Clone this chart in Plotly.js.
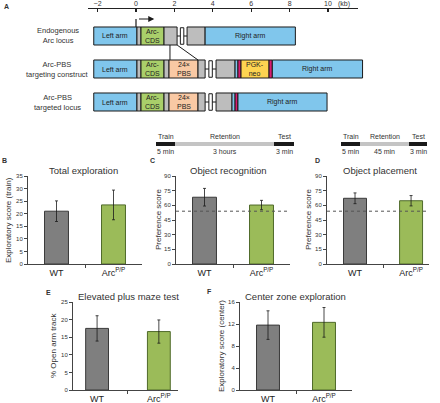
<!DOCTYPE html>
<html>
<head>
<meta charset="utf-8">
<script src="https://cdn.plot.ly/plotly-3.0.1.min.js"></script>
<style>html,body{margin:0;padding:0;background:#fff}#chart{width:440px;height:403px}</style>
</head>
<body>
<div id="chart"></div>
<script>
// ---------- DATA ----------
const groups = ['WT', 'Arc<sup>P/P</sup>'];
const totalExploration = [21.0, 23.5];
const totalExplorationErr = [4.1, 5.9];
const objectRecognition = [68.3, 60.3];
const objectRecognitionErr = [9.0, 4.8];
const objectPlacement = [67.2, 64.7];
const objectPlacementErr = [5.5, 5.3];
const openArmTrack = [17.5, 16.6];
const openArmTrackErr = [3.6, 3.3];
const centerZone = [11.8, 12.3];
const centerZoneErr = [2.6, 2.7];
const chanceLevel = 54;

// schematic (kb)
const kbTicks = [-2, 0, 2, 4, 6, 8, 10];
const kbTickText = ['\u22122', '0', '2', '4', '6', '8', '10'];
const rowNames = ['Endogenous<br>Arc locus', 'Arc-PBS<br>targeting construct', 'Arc-PBS<br>targeted locus'];
const segRow  = [0,0,0,0,0,0, 1,1,1,1,1,1,1,1,1,1,1,1, 2,2,2,2,2,2,2,2,2,2];
const segFrom = [-2.2,0.05,0.26,1.46,2.66,3.6, -2.2,0.05,0.26,1.46,1.72,3.23,4.17,5.16,5.31,5.47,6.93,7.1, -2.2,0.05,0.26,1.46,1.72,3.23,4.17,5.0,5.16,5.31];
const segTo   = [0.05,0.26,1.46,2.14,3.6,8.3, 0.05,0.26,1.46,1.72,3.23,3.6,5.16,5.31,5.47,6.93,7.1,11.8, 0.05,0.26,1.46,1.72,3.23,3.6,5.0,5.16,5.31,9.95];
const segKind = ['arm','utr','cds','utr','utr','arm', 'arm','utr','cds','utr','pbs','utr','utr','arm','lox','neo','lox','arm', 'arm','utr','cds','utr','pbs','utr','utr','arm','lox','arm'];
const segText = ['Left arm','','Arc-<br>CDS','','','Right arm', 'Left arm','','Arc-<br>CDS','','24×<br>PBS','','','','','PGK-<br>neo','','Right arm', 'Left arm','','Arc-<br>CDS','','24×<br>PBS','','','','','Right arm'];
const breakRow = [0, 1, 2];
const breakFrom = [2.14, 3.6, 3.6];
const breakTo = [2.66, 4.17, 4.17];

// timelines
const phases = ['Train', 'Retention', 'Test'];
const durations1 = ['5 min', '3 hours', '3 min'];
const durations2 = ['5 min', '45 min', '3 min'];

// ---------- STYLE ----------
const W = 440, H = 403;
const px = x => x / W, py = y => 1 - y / H;
const FONT = 'Liberation Sans, Arial, sans-serif';
const kindColor = {arm:'#80c6ec', utr:'#bdbdbd', cds:'#a9cf6a', pbs:'#f9c9a4', neo:'#fdd451', lox:'#d81b72'};
const barFill = ['#7f7f7f', '#9bbb59'];
const barLine = ['#3a3a3a', '#4f6a2a'];

const traces = [];
function bars(xa, ya, vals, errs, width) {
  traces.push({type:'bar', x:[0,1], y:vals, xaxis:xa, yaxis:ya, width:width,
    marker:{color:barFill, line:{color:barLine, width:1}},
    error_y:{type:'data', array:errs, visible:true, color:'#1a1a1a', thickness:0.8, width:1.5},
    hoverinfo:'skip', showlegend:false});
}
bars('x','y', totalExploration, totalExplorationErr, 0.42);
bars('x2','y2', objectRecognition, objectRecognitionErr, 0.42);
bars('x3','y3', objectPlacement, objectPlacementErr, 0.41);
bars('x4','y4', openArmTrack, openArmTrackErr, 0.37);
bars('x5','y5', centerZone, centerZoneErr, 0.41);
['x2','x3'].forEach((xa,i) => traces.push({type:'scatter', mode:'lines', x:[-0.5,1.5], y:[chanceLevel,chanceLevel],
  xaxis:xa, yaxis:['y2','y3'][i], line:{color:'#555', width:1, dash:'dot'}, hoverinfo:'skip', showlegend:false}));
traces.push({type:'scatter', mode:'markers', x:[0], y:[0], xaxis:'x6', yaxis:'y6', marker:{opacity:0}, hoverinfo:'skip', showlegend:false});
traces.push({type:'scatter', mode:'markers', x:[0], y:[0.5], xaxis:'x7', yaxis:'y7', marker:{opacity:0}, hoverinfo:'skip', showlegend:false});

function xax(x0, x1, range) {
  return {domain:[px(x0), px(x1)], range:range, showline:true, linecolor:'#444', linewidth:1,
    tickmode:'array', tickvals:[0,1], ticktext:groups, ticks:'', tickfont:{size:9, color:'#222'},
    showgrid:false, zeroline:false, fixedrange:true,
    minor:{tickmode:'array', tickvals:[0.5], ticks:'outside', ticklen:3, tickcolor:'#444', showgrid:false}};
}
function yax(y0, y1, range, dtick) {
  return {domain:[py(y1), py(y0)], range:range, dtick:dtick, showline:true, linecolor:'#444', linewidth:1,
    ticks:'outside', ticklen:3, tickcolor:'#444', tickfont:{size:6, color:'#333'},
    showgrid:false, zeroline:false, fixedrange:true};
}

const layout = {
  width:W, height:H, margin:{l:0,r:0,t:0,b:0}, paper_bgcolor:'#fff', plot_bgcolor:'rgba(0,0,0,0)',
  font:{family:FONT, color:'#333'}, showlegend:false, bargap:0,
  xaxis: Object.assign(xax(28,142,[-0.5,1.5]), {anchor:'y'}),
  yaxis: Object.assign(yax(176,264,[0,35],5), {anchor:'x'}),
  xaxis2: Object.assign(xax(176,290,[-0.5,1.5]), {anchor:'y2'}),
  yaxis2: Object.assign(yax(176,264,[0,90],15), {anchor:'x2'}),
  xaxis3: Object.assign(xax(327,429,[-0.5,1.32]), {anchor:'y3'}),
  yaxis3: Object.assign(yax(176,264,[0,90],15), {anchor:'x3'}),
  xaxis4: Object.assign(xax(73,178,[-0.39,1.31]), {anchor:'y4'}),
  yaxis4: Object.assign(yax(302,390,[0,25],5), {anchor:'x4'}),
  xaxis5: Object.assign(xax(240,352,[-0.5,1.5]), {anchor:'y5'}),
  yaxis5: Object.assign(yax(302,390,[0,16],4), {anchor:'x5'}),
  xaxis6: {domain:[px(60),px(400)], range:[(60-136)/19.2,(400-136)/19.2], visible:false, anchor:'y6', fixedrange:true},
  yaxis6: {domain:[py(115),py(9)], range:[2.394,-0.818], visible:false, anchor:'x6', fixedrange:true},
  xaxis7: {domain:[px(88),px(358)], range:[(88-136)/19.2,(358-136)/19.2], anchor:'y7', side:'top',
    showline:true, linecolor:'#222', linewidth:1.5, tickmode:'array', tickvals:kbTicks,
    ticktext:kbTickText, ticks:'inside', ticklen:3, tickcolor:'#222', tickwidth:1.2,
    ticklabelstandoff:-1,
    tickfont:{size:7, color:'#333'}, showgrid:false, zeroline:false, fixedrange:true},
  yaxis7: {domain:[py(12),py(9)], range:[0,1], visible:false, anchor:'x7', fixedrange:true},
  shapes:[], annotations:[]
};

const A = layout.annotations, S = layout.shapes;
function txt(t, x, y, size, extra) {
  A.push(Object.assign({text:t, x:px(x), y:py(y), xref:'paper', yref:'paper', showarrow:false,
    font:{size:size, color:'#333', family:FONT}, xanchor:'center', yanchor:'middle'}, extra||{}));
}
// panel letters
txt('<b>A</b>', 7, 6, 7); txt('<b>B</b>', 4, 160, 7); txt('<b>C</b>', 152, 160, 7); txt('<b>D</b>', 317, 160, 7);
txt('<b>E</b>', 48, 292, 7); txt('<b>F</b>', 209, 291, 7);
// titles
txt('Total exploration', 83, 170, 9.5); txt('Object recognition', 228, 170, 9.5); txt('Object placement', 380, 170, 9.5);
txt('Elevated plus maze test', 128, 296, 9.5); txt('Center zone exploration', 295, 296, 9.5);
// y titles
txt('Exploratory score (train)', 8, 220, 8, {textangle:-90});
txt('Preference score', 158, 220, 8, {textangle:-90});
txt('Preference score', 308, 220, 8, {textangle:-90});
txt('% Open arm track', 53, 346, 8, {textangle:-90});
txt('Exploratory score (center)', 221, 346, 8, {textangle:-90});
txt('(kb)', 344, 4, 7);

// schematic
const hh = 0.273;
for (let r = 0; r < rowNames.length; r++) {
  A.push({text:rowNames[r], x:px(58), xref:'paper', y:r, yref:'y6', showarrow:false, xanchor:'center', yanchor:'middle',
    font:{size:7.5, color:'#333', family:FONT}, align:'center'});
}
for (let i = 0; i < segRow.length; i++) {
  const r = segRow[i];
  S.push({type:'rect', xref:'x6', yref:'y6', x0:segFrom[i], x1:segTo[i], y0:r-hh, y1:r+hh,
    fillcolor:kindColor[segKind[i]], line:{color:'#1a1a1a', width:1}});
  if (segText[i]) A.push({text:segText[i], x:(segFrom[i]+segTo[i])/2, y:r, xref:'x6', yref:'y6', showarrow:false,
    xanchor:'center', yanchor:'middle', font:{size:7, color:'#222', family:FONT}, align:'center'});
}
for (let i = 0; i < breakRow.length; i++) {
  const r = breakRow[i], m = (breakFrom[i]+breakTo[i])/2;
  S.push({type:'line', xref:'x6', yref:'y6', x0:breakFrom[i], x1:breakTo[i], y0:r, y1:r, line:{color:'#1a1a1a', width:1}});
  S.push({type:'rect', xref:'x6', yref:'y6', x0:m-0.09, x1:m+0.09, y0:r-0.25, y1:r+0.25, fillcolor:'#fff', line:{color:'#1a1a1a', width:1}});
}
// insertion lines
S.push({type:'line', xref:'x6', yref:'y6', x0:1.77, x1:1.77, y0:hh, y1:1-hh, line:{color:'#1a1a1a', width:1}});
S.push({type:'line', xref:'x6', yref:'y6', x0:2.14, x1:3.23, y0:hh, y1:1-hh, line:{color:'#1a1a1a', width:1}});
// TSS arrow
S.push({type:'line', xref:'x6', yref:'y6', x0:0, x1:0, y0:-hh, y1:-0.515, line:{color:'#1a1a1a', width:1.2}});
A.push({text:' ', x:0.95, y:-0.515, xref:'x6', yref:'y6', ax:0, ay:-0.515, axref:'x6', ayref:'y6',
  showarrow:true, arrowhead:2, arrowsize:1, arrowwidth:1.2, arrowcolor:'#1a1a1a'});

// timelines
function timeline(xs, durs) {
  const cols = ['#1a1a1a', '#c4c4c4', '#1a1a1a'];
  for (let i = 0; i < 3; i++) {
    S.push({type:'rect', xref:'paper', yref:'paper', x0:px(xs[i]), x1:px(xs[i+1]), y0:py(146), y1:py(142),
      fillcolor:cols[i], line:{width:0}});
    const c = (xs[i]+xs[i+1])/2;
    txt(phases[i], c, 136, 7);
    txt(durs[i], c, 151, 7);
  }
}
timeline([156,175,274,294], durations1);
timeline([341,360,409,427], durations2);

Plotly.newPlot('chart', traces, layout, {staticPlot:true, displayModeBar:false});
</script>
</body>
</html>
